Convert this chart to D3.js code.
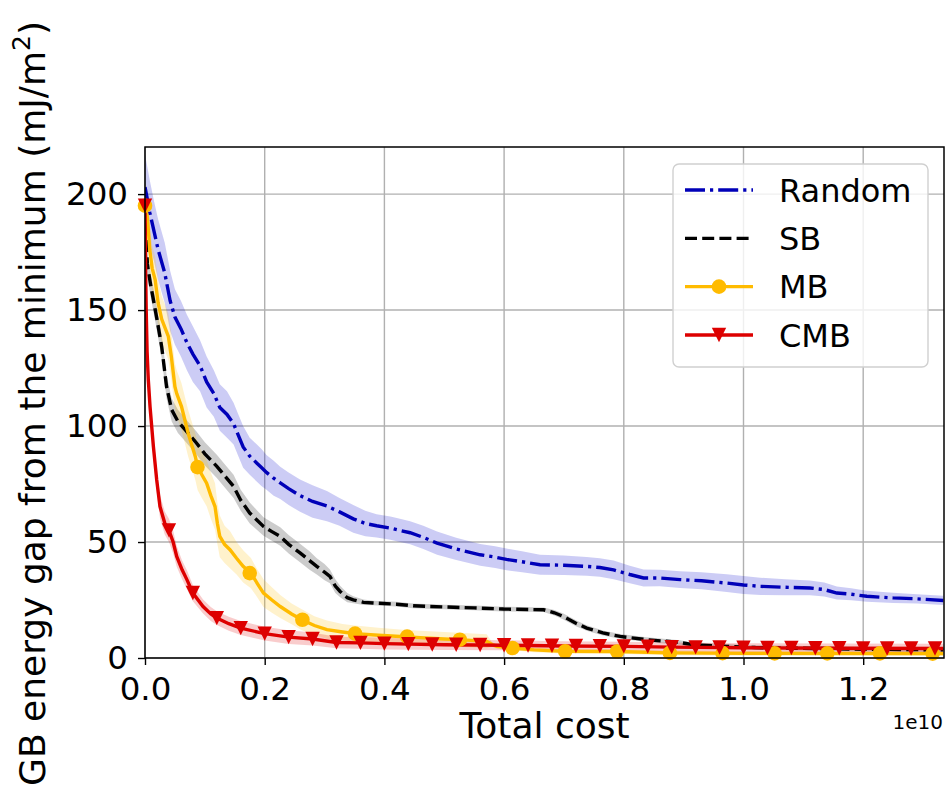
<!DOCTYPE html>
<html>
<head>
<meta charset="utf-8">
<script src="https://cdn.jsdelivr.net/npm/d3@7"></script>
<style>
  body { margin: 0; background: #fff; }
  text { font-family: 'DejaVu Sans', sans-serif; fill: #000; }
</style>
</head>
<body>
<div id="chart"></div>
<script>
// Data (x in units of 1e10, y in mJ/m^2, third value = band half-width)
const randomPts = [
  [0, 203, 14], [0.003, 199, 14], [0.008, 192, 14], [0.015, 184, 13], [0.022, 176, 13],
  [0.033, 166, 13], [0.042, 154, 13], [0.05, 147, 12], [0.06, 142, 12], [0.07, 136, 12],
  [0.08, 131, 12], [0.092, 126, 11], [0.103, 119, 11], [0.115, 114, 10], [0.125, 108, 10],
  [0.137, 105, 10], [0.148, 101, 9], [0.156, 96, 9], [0.164, 91, 9], [0.175, 87, 8],
  [0.187, 84, 8], [0.195, 82, 8], [0.203, 80, 7.5], [0.215, 77.5, 7.5], [0.226, 75.5, 7],
  [0.24, 73, 7], [0.259, 70, 7], [0.28, 67.5, 7], [0.304, 65.5, 6.5], [0.325, 63, 6],
  [0.348, 60, 6], [0.368, 58, 5.5], [0.387, 57, 5], [0.41, 56, 5], [0.426, 55, 5],
  [0.443, 54, 5], [0.465, 52, 5], [0.488, 49.5, 5], [0.52, 47, 4.8], [0.56, 44.5, 4.7],
  [0.585, 43.5, 4.7], [0.604, 42.5, 4.7], [0.63, 41.5, 4.5], [0.66, 40.2, 4.3], [0.7, 40, 4.2],
  [0.738, 39.5, 4], [0.76, 39, 4], [0.783, 38, 4], [0.81, 36, 3.8], [0.833, 34.5, 3.7],
  [0.86, 34.5, 3.6], [0.894, 33.8, 3.6], [0.93, 33.3, 3.7], [0.972, 32.3, 3.8], [1.0, 31.5, 3.9],
  [1.028, 30.9, 3.7], [1.07, 30.5, 3.5], [1.111, 30.2, 3.2], [1.135, 29.5, 3], [1.156, 28, 2.8],
  [1.18, 27.5, 2.6], [1.206, 26.6, 2.4], [1.25, 25.9, 2.2], [1.29, 25.5, 2], [1.334, 24.8, 2]
];

const sbPts = [
  [0, 195, 5], [0.002, 180, 5], [0.004, 170, 5], [0.0055, 167, 5], [0.01, 160, 5],
  [0.014, 154.5, 5], [0.02, 146, 5], [0.028, 134, 5], [0.036, 117, 5], [0.0446, 107, 5],
  [0.055, 102, 5], [0.067, 98.4, 5], [0.086, 92.7, 5], [0.1, 88, 5], [0.12, 82.6, 5],
  [0.135, 78, 5], [0.148, 74, 5], [0.16, 68, 4.5], [0.175, 62.5, 4.5], [0.198, 56.7, 4],
  [0.212, 54.5, 4], [0.226, 52.4, 4], [0.24, 49, 4], [0.259, 45.3, 4], [0.275, 42, 4],
  [0.287, 39.5, 3.5], [0.3, 37, 3.5], [0.309, 35.2, 3], [0.318, 31, 3], [0.326, 28.7, 2.5],
  [0.338, 26, 2], [0.348, 25.1, 1.5], [0.365, 24, 1.2], [0.382, 23.7, 1], [0.42, 23.2, 1],
  [0.448, 22.5, 1], [0.5, 22, 1], [0.55, 21.6, 1], [0.599, 21.1, 1], [0.666, 20.8, 1],
  [0.684, 19.5, 1.2], [0.699, 17.9, 1.3], [0.72, 15, 1.3], [0.738, 12.9, 1.2], [0.765, 10.8, 1.1],
  [0.794, 9.3, 1], [0.838, 7.9, 1], [0.894, 6.7, 1], [0.916, 5.7, 1], [0.972, 5, 1],
  [1.02, 4.5, 1], [1.1, 4.2, 1], [1.2, 3.8, 1], [1.334, 3.5, 1]
];

const mbPts = [
  [0, 195, 10], [0.004, 190, 10], [0.008, 176, 10], [0.012, 168, 10], [0.017, 163, 10],
  [0.022, 153, 10], [0.028, 146, 10], [0.039, 138.6, 10], [0.044, 130, 10], [0.05, 117, 10],
  [0.053, 114, 10], [0.061, 108.4, 10], [0.072, 97, 10], [0.084, 86.9, 10], [0.088, 82.3, 10],
  [0.095, 79, 10], [0.103, 75.4, 10], [0.11, 70, 10], [0.117, 65.3, 10], [0.121, 58, 9],
  [0.125, 52.4, 9], [0.133, 49, 8], [0.142, 46.7, 8], [0.153, 43, 7], [0.164, 39.5, 7],
  [0.177, 36.6, 6.5], [0.188, 32, 6], [0.198, 28, 6], [0.212, 25, 5.5], [0.226, 22.2, 5],
  [0.245, 19, 4.5], [0.262, 16.5, 4.5], [0.283, 14, 4], [0.304, 12.2, 4], [0.33, 11.2, 3.5],
  [0.351, 10.5, 3.5], [0.39, 9.8, 3.2], [0.426, 9.3, 3], [0.46, 8.8, 3], [0.5, 8.2, 3],
  [0.525, 7.9, 3], [0.571, 7.2, 3], [0.58, 5.8, 1], [0.588, 5, 1], [0.614, 4.3, 1],
  [0.65, 3.5, 1], [0.698, 2.9, 1], [0.788, 2.8, 1], [0.873, 2.2, 1], [1.0, 2, 1],
  [1.334, 1.9, 1]
];

const cmbPts = [
  [0, 195, 4], [0.001, 168, 5], [0.002, 150, 5], [0.0035, 132, 5], [0.0055, 120, 5],
  [0.0084, 108.4, 5], [0.014, 91.2, 5], [0.0195, 76.9, 5], [0.025, 65.3, 5], [0.033, 58.2, 5],
  [0.04, 55, 5], [0.047, 50, 5], [0.053, 43.8, 4.5], [0.062, 38, 4], [0.07, 33.8, 4],
  [0.08, 28, 3.5], [0.097, 22.2, 3], [0.11, 19, 3], [0.12, 17.2, 3], [0.14, 14.8, 3],
  [0.16, 12.9, 3], [0.2, 10.5, 3], [0.24, 9, 3], [0.28, 8.2, 2.8], [0.32, 6.7, 2.5],
  [0.36, 6.5, 2.5], [0.4, 6.2, 2.5], [0.5, 5.7, 2.3], [0.6, 5.5, 2.2], [0.7, 5.2, 2],
  [0.8, 5, 2], [0.88, 4.7, 2], [1.0, 4.4, 2], [1.16, 4.2, 2], [1.334, 4.1, 2]
];

const mbMarkers = [
  [0, 195], [0.0877, 82.3], [0.175, 36.6], [0.263, 16.5], [0.351, 10.5], [0.438, 9.2],
  [0.526, 7.9], [0.614, 4.3], [0.702, 2.9], [0.789, 2.8], [0.877, 2.2], [0.965, 2.1],
  [1.052, 2], [1.14, 2], [1.228, 2], [1.316, 1.9]
];

const cmbMarkers = [
  [0, 195], [0.04, 55], [0.08, 28], [0.12, 17.2], [0.16, 12.9], [0.2, 10.5], [0.24, 9],
  [0.28, 8.2], [0.32, 6.7], [0.36, 6.5], [0.4, 6.2], [0.44, 6], [0.48, 5.8], [0.52, 5.7],
  [0.56, 5.6], [0.6, 5.5], [0.64, 5.4], [0.68, 5.3], [0.72, 5.2], [0.76, 5.1], [0.8, 5],
  [0.84, 4.9], [0.88, 4.7], [0.92, 4.6], [0.96, 4.5], [1.0, 4.4], [1.04, 4.3], [1.08, 4.3],
  [1.12, 4.2], [1.16, 4.2], [1.2, 4.1], [1.24, 4.1], [1.28, 4.1], [1.32, 4.1]
];

const xTicks = [0, 0.2, 0.4, 0.6, 0.8, 1.0, 1.2];
const yTicks = [0, 50, 100, 150, 200];
const seriesNames = ['Random', 'SB', 'MB', 'CMB'];

// Dimensions
const WIDTH = 950;
const HEIGHT = 801;
const MARGIN = { TOP: 147, BOTTOM: 143, LEFT: 145, RIGHT: 6 };
const W = WIDTH - MARGIN.LEFT - MARGIN.RIGHT;
const H = HEIGHT - MARGIN.TOP - MARGIN.BOTTOM;

const svg = d3
  .select('#chart')
  .append('svg')
  .attr('width', WIDTH)
  .attr('height', HEIGHT);

const g = svg.append('g').attr('transform', `translate(${MARGIN.LEFT}, ${MARGIN.TOP})`);

// Scales
const x = d3.scaleLinear().domain([0, 1.335]).range([0, W]);
const y = d3.scaleLinear().domain([0, 220.3]).range([H, 0]);

g.append('clipPath').attr('id', 'clip')
  .append('rect').attr('width', W).attr('height', H);

// Grid
g.append('g')
  .selectAll('line')
  .data(xTicks)
  .join('line')
  .attr('x1', (d) => x(d)).attr('x2', (d) => x(d))
  .attr('y1', 0).attr('y2', H)
  .attr('stroke', '#b0b0b0').attr('stroke-width', 1.4);
g.append('g')
  .selectAll('line')
  .data(yTicks)
  .join('line')
  .attr('x1', 0).attr('x2', W)
  .attr('y1', (d) => y(d)).attr('y2', (d) => y(d))
  .attr('stroke', '#b0b0b0').attr('stroke-width', 1.4);

// Series
const series = [
  { name: 'Random', pts: randomPts, color: '#0000b8', fill: '#0000cd', dash: '20,5,3.2,5' },
  { name: 'SB', pts: sbPts, color: '#000000', fill: '#000000', dash: '12,5.2' },
  { name: 'MB', pts: mbPts, color: '#ffbb00', fill: '#ffbf00', dash: null, markers: mbMarkers, shape: 'circle' },
  { name: 'CMB', pts: cmbPts, color: '#dd0000', fill: '#e00000', dash: null, markers: cmbMarkers, shape: 'tri' }
];

const area = d3.area()
  .x((d) => x(d[0]))
  .y0((d) => y(d[1] - d[2]))
  .y1((d) => y(d[1] + d[2]));

const line = d3.line()
  .x((d) => x(d[0]))
  .y((d) => y(d[1]));

const tri = (s) => `M${-s},${-s}L${s},${-s}L0,${s}Z`;

const plot = g.append('g').attr('clip-path', 'url(#clip)');

series.forEach((s) => {
  plot.append('path')
    .attr('d', area(s.pts))
    .attr('fill', s.fill)
    .attr('fill-opacity', 0.2);
});

series.forEach((s) => {
  plot.append('path')
    .attr('d', line(s.pts))
    .attr('fill', 'none')
    .attr('stroke', s.color)
    .attr('stroke-width', 3.4)
    .attr('stroke-dasharray', s.dash);
  if (s.markers) {
    if (s.shape === 'circle') {
      g.append('g').selectAll('circle')
        .data(s.markers)
        .join('circle')
        .attr('cx', (d) => x(d[0]))
        .attr('cy', (d) => y(d[1]))
        .attr('r', 7.3)
        .attr('fill', s.color);
    } else {
      g.append('g').selectAll('path')
        .data(s.markers)
        .join('path')
        .attr('transform', (d) => `translate(${x(d[0])}, ${y(d[1])})`)
        .attr('d', tri(7.2))
        .attr('fill', s.color);
    }
  }
});

// Frame
g.append('rect')
  .attr('width', W).attr('height', H)
  .attr('fill', 'none')
  .attr('stroke', '#000').attr('stroke-width', 1.5);

// Axes
const xAxisCall = d3.axisBottom(x).tickValues(xTicks).tickSize(7).tickPadding(10)
  .tickFormat(d3.format('.1f'));
const xAxis = g.append('g').attr('transform', `translate(0, ${H})`).call(xAxisCall);
const yAxisCall = d3.axisLeft(y).tickValues(yTicks).tickSize(7).tickPadding(10);
const yAxis = g.append('g').call(yAxisCall);

[xAxis, yAxis].forEach((a) => {
  a.select('.domain').remove();
  a.selectAll('.tick line').attr('stroke', '#000').attr('stroke-width', 1.4);
  a.selectAll('.tick text')
    .style('font-family', 'DejaVu Sans')
    .style('font-size', '32.5px')
    .attr('fill', '#000');
});
xAxis.selectAll('.tick text').attr('dy', null).attr('y', 42);

// Labels
svg.append('text')
  .attr('x', MARGIN.LEFT + W / 2)
  .attr('y', 738)
  .attr('text-anchor', 'middle')
  .style('font-size', '36px')
  .text('Total cost');

svg.append('text')
  .attr('x', 943)
  .attr('y', 729)
  .attr('text-anchor', 'end')
  .style('font-size', '20px')
  .text('1e10');

const yl = svg.append('text')
  .attr('transform', `translate(45, ${MARGIN.TOP + H / 2 + 1}) rotate(-90)`)
  .attr('text-anchor', 'middle')
  .style('font-size', '36px');
yl.append('tspan').text('GB energy gap from the minimum (mJ/m');
yl.append('tspan').attr('dy', -15).style('font-size', '25px').text('2');
yl.append('tspan').attr('dy', 15).text(')');

// Legend
const legend = svg.append('g');
legend.append('rect')
  .attr('x', 673).attr('y', 164)
  .attr('width', 255).attr('height', 203)
  .attr('rx', 6)
  .attr('fill', '#fff').attr('fill-opacity', 0.8)
  .attr('stroke', '#d0d0d0').attr('stroke-width', 1.4);

const legendY = d3.scalePoint().domain(seriesNames).range([190, 335]);

series.forEach((s) => {
  const ly = legendY(s.name);
  legend.append('line')
    .attr('x1', 685).attr('x2', 753)
    .attr('y1', ly).attr('y2', ly)
    .attr('stroke', s.color)
    .attr('stroke-width', 3.4)
    .attr('stroke-dasharray', s.dash);
  if (s.shape === 'circle') {
    legend.append('circle').attr('cx', 719).attr('cy', ly).attr('r', 7.3).attr('fill', s.color);
  } else if (s.shape === 'tri') {
    legend.append('path').attr('transform', `translate(719, ${ly})`).attr('d', tri(7.2)).attr('fill', s.color);
  }
  legend.append('text')
    .attr('x', 779)
    .attr('y', ly)
    .attr('dy', '0.36em')
    .style('font-size', '32px')
    .text(s.name);
});
</script>
</body>
</html>
